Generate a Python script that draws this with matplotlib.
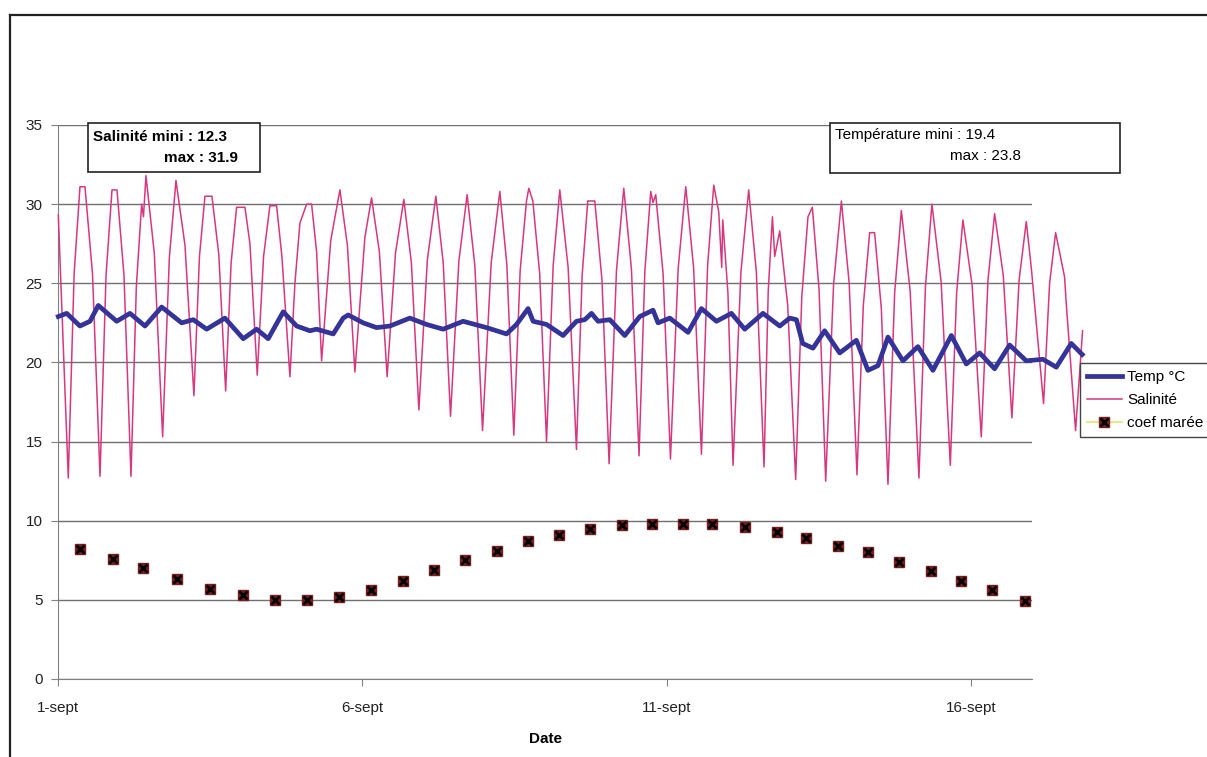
import matplotlib
matplotlib.use("Agg")
import matplotlib.pyplot as plt
from matplotlib.lines import Line2D
from matplotlib.patches import Rectangle
from matplotlib.legend_handler import HandlerTuple

plt.rcParams['font.family'] = ['Liberation Sans', 'DejaVu Sans']

# days since 1-sept (troughs, shoulders, peaks)
sal_days = [0.005, 0.169, 0.265, 0.361, 0.443, 0.567, 0.690, 0.789, 0.887, 0.969, 1.084,
            1.199, 1.287, 1.374, 1.404, 1.445, 1.582, 1.719, 1.829, 1.938, 2.086, 2.233,
            2.324, 2.414, 2.529, 2.642, 2.754, 2.844, 2.934, 3.071, 3.153, 3.273, 3.377,
            3.481, 3.591, 3.678, 3.810, 3.892, 3.974, 4.084, 4.166, 4.248, 4.330, 4.480,
            4.631, 4.754, 4.877, 5.041, 5.151, 5.279, 5.407, 5.544, 5.681, 5.805, 5.928,
            6.068, 6.207, 6.328, 6.448, 6.585, 6.721, 6.848, 6.974, 7.116, 7.258, 7.373,
            7.488, 7.592, 7.696, 7.734, 7.800, 7.913, 8.025, 8.134, 8.243, 8.380, 8.517,
            8.610, 8.703, 8.818, 8.936, 9.053, 9.174, 9.294, 9.420, 9.545, 9.641, 9.737,
            9.775, 9.819, 9.940, 10.061, 10.187, 10.312, 10.441, 10.570, 10.671, 10.772,
            10.854, 10.903, 10.920, 11.005, 11.089, 11.218, 11.346, 11.472, 11.598, 11.667,
            11.736, 11.773, 11.856, 11.987, 12.118, 12.219, 12.320, 12.392, 12.502, 12.611,
            12.740, 12.869, 12.997, 13.125, 13.229, 13.333, 13.415, 13.525, 13.634, 13.744,
            13.854, 13.999, 14.143, 14.250, 14.356, 14.507, 14.658, 14.762, 14.865, 15.016,
            15.167, 15.277, 15.386, 15.528, 15.670, 15.788, 15.906, 15.988, 16.190, 16.289,
            16.388, 16.535, 16.563, 16.716, 16.831]
sal_vals = [29.3, 12.7, 25.6, 31.1, 31.1, 25.6, 12.8, 25.5, 30.9, 30.9, 25.5,
            12.8, 24.8, 30.0, 29.2, 31.8, 26.9, 15.3, 26.6, 31.5, 27.4, 17.9,
            26.7, 30.5, 30.5, 26.8, 18.2, 26.3, 29.8, 29.8, 27.5, 19.2, 26.7,
            29.9, 29.9, 26.7, 19.1, 25.0, 28.8, 30.0, 30.0, 27.0, 20.1, 27.7,
            30.9, 27.4, 19.4, 27.9, 30.4, 27.0, 19.1, 26.9, 30.3, 26.3, 17.0,
            26.5, 30.5, 26.3, 16.6, 26.4, 30.6, 26.1, 15.7, 26.3, 30.8, 26.2,
            15.4, 25.8, 30.2, 31.0, 30.2, 25.6, 15.0, 26.1, 30.9, 26.0, 14.5,
            25.5, 30.2, 30.2, 25.2, 13.6, 25.8, 31.0, 25.9, 14.1, 25.8, 30.8,
            30.1, 30.6, 25.6, 13.9, 25.9, 31.1, 26.0, 14.2, 26.1, 31.2,
            29.5, 26.0, 29.0, 24.4, 13.5, 25.7, 30.9, 25.7, 13.4, 24.5,
            29.2, 26.7, 28.3, 23.6, 12.6, 24.2, 29.2, 29.8, 24.6, 12.5,
            24.9, 30.2, 25.0, 12.9, 23.6, 28.2, 28.2, 23.4, 12.3, 24.4,
            29.6, 24.5, 12.7, 24.8, 30.0, 25.1, 13.5, 24.4, 29.0, 24.9,
            15.3, 25.2, 29.4, 25.5, 16.5, 25.2, 28.9, 26.0, 17.4, 25.0,
            28.2, 25.4, 23.7, 15.7, 22.0]

temp_days = [0.005, 0.143, 0.361, 0.525, 0.662, 0.964, 1.182, 1.429, 1.703, 2.031, 2.222,
             2.442, 2.742, 3.043, 3.263, 3.453, 3.700, 3.920, 4.138, 4.248, 4.521, 4.685,
             4.767, 5.013, 5.233, 5.452, 5.780, 6.054, 6.327, 6.655, 7.039, 7.368, 7.532,
             7.722, 7.805, 8.025, 8.297, 8.517, 8.654, 8.764, 8.872, 9.064, 9.310, 9.557,
             9.775, 9.857, 10.049, 10.350, 10.570, 10.816, 11.062, 11.281, 11.581, 11.856,
             12.020, 12.130, 12.233, 12.402, 12.594, 12.841, 13.115, 13.305, 13.470, 13.634,
             13.880, 14.126, 14.373, 14.675, 14.921, 15.140, 15.386, 15.632, 15.906, 16.179,
             16.399, 16.645, 16.825]
temp_vals = [22.9, 23.1, 22.3, 22.6, 23.6, 22.6, 23.1, 22.3, 23.5, 22.5, 22.7,
             22.1, 22.8, 21.5, 22.1, 21.5, 23.2, 22.3, 22.0, 22.1, 21.8, 22.8,
             23.0, 22.5, 22.2, 22.3, 22.8, 22.4, 22.1, 22.6, 22.2, 21.8, 22.4,
             23.4, 22.6, 22.4, 21.7, 22.6, 22.7, 23.1, 22.6, 22.7, 21.7, 22.9,
             23.3, 22.5, 22.8, 21.9, 23.4, 22.6, 23.1, 22.1, 23.1, 22.3,
             22.8, 22.7, 21.2, 20.9, 22.0, 20.6, 21.4, 19.5, 19.8, 21.6,
             20.1, 21.0, 19.5, 21.7, 19.9, 20.6, 19.6, 21.1, 20.1, 20.2,
             19.7, 21.2, 20.5]

coef_days = [0.36, 0.90, 1.40, 1.95, 2.50, 3.04, 3.56, 4.09, 4.61, 5.14, 5.67, 6.17,
             6.68, 7.21, 7.72, 8.23, 8.74, 9.26, 9.75, 10.26, 10.74, 11.28, 11.81,
             12.28, 12.81, 13.30, 13.81, 14.34, 14.84, 15.35, 15.88]
coef_vals = [8.2, 7.6, 7.0, 6.3, 5.7, 5.3, 5.0, 5.0, 5.2, 5.6, 6.2, 6.9,
             7.5, 8.1, 8.7, 9.1, 9.5, 9.7, 9.8, 9.8, 9.8, 9.6, 9.3,
             8.9, 8.4, 8.0, 7.4, 6.8, 6.2, 5.6, 4.9]

tick_days = [0, 5, 10, 15]
tick_labels = ['1-sept', '6-sept', '11-sept', '16-sept']

W, H = 1207, 757
fig = plt.figure(figsize=(W / 100, H / 100), dpi=100)
ax = fig.add_axes([58 / W, 1 - 679 / H, (1032 - 58) / W, (679 - 125) / H])

blue = '#333399'
pink = '#d6387f'

ax.plot(sal_days, sal_vals, color=pink, lw=1.1, clip_on=False, zorder=3)
ax.plot(temp_days, temp_vals, color=blue, lw=3.4, clip_on=False, zorder=4)
ax.plot(coef_days, coef_vals, ls='none', marker='s', ms=7, mfc='#7a1f1f', mec='#7a1f1f', zorder=5)
ax.plot(coef_days, coef_vals, ls='none', marker='x', ms=6, mew=2, color='black', zorder=6)

ax.set_xlim(0, 16)
ax.set_ylim(0, 35)
ax.set_yticks(range(0, 36, 5))
ax.set_xticks(tick_days)
ax.set_xticklabels(tick_labels)
ax.yaxis.grid(True, color='#707070', lw=1)
ax.set_axisbelow(True)
for s in ['top', 'right']:
    ax.spines[s].set_visible(False)
for s in ['left', 'bottom']:
    ax.spines[s].set_color('#808080')
ax.tick_params(axis='both', colors='#808080', labelcolor='#222222', labelsize=11,
               direction='out', length=5)
ax.tick_params(axis='y', pad=6)
ax.tick_params(axis='x', pad=11)
ax.set_xlabel('Date', fontsize=11, fontweight='bold', labelpad=12)

# outer frame (left and top edges)
fig.add_artist(Line2D([10 / W, 10 / W], [0, 1 - 15 / H], transform=fig.transFigure, color='#222222', lw=1.6))
fig.add_artist(Line2D([10 / W, 1], [1 - 15 / H, 1 - 15 / H], transform=fig.transFigure, color='#222222', lw=1.6))

# min / max boxes
fig.add_artist(Rectangle((88 / W, 1 - 172 / H), (260 - 88) / W, (172 - 123) / H,
                         transform=fig.transFigure, fill=True, fc='white', ec='#222222', lw=1.2, zorder=10))
fig.text(93 / W, 1 - 137 / H, 'Salinité mini : 12.3', fontsize=11, fontweight='bold', va='center', zorder=11)
fig.text(238 / W, 1 - 158 / H, 'max : 31.9', fontsize=11, fontweight='bold', va='center', ha='right', zorder=11)

fig.add_artist(Rectangle((830 / W, 1 - 173 / H), (1120 - 830) / W, (173 - 123) / H,
                         transform=fig.transFigure, fill=True, fc='white', ec='#222222', lw=1.2, zorder=10))
fig.text(835 / W, 1 - 135 / H, 'Température mini : 19.4', fontsize=11, va='center', zorder=11)
fig.text(1021 / W, 1 - 156 / H, 'max : 23.8', fontsize=11, va='center', ha='right', zorder=11)

# legend
h_temp = Line2D([], [], color=blue, lw=3.4)
h_sal = Line2D([], [], color=pink, lw=1.1)
h_cl = Line2D([], [], color='#eee48a', lw=1.5, marker='s', ms=7, mfc='#7a1f1f', mec='#7a1f1f')
h_cx = Line2D([], [], ls='none', marker='x', ms=6, mew=2, color='black')
leg = fig.legend([h_temp, h_sal, (h_cl, h_cx)], ['Temp °C', 'Salinité', 'coef marée'],
                 handler_map={tuple: HandlerTuple(ndivide=1)},
                 loc='upper left', bbox_to_anchor=(1080 / W, 1 - 363 / H),
                 fontsize=11, frameon=True, fancybox=False, framealpha=1,
                 edgecolor='#444444', handlelength=2.3, handletextpad=0.35,
                 labelspacing=0.6, borderpad=0.45, borderaxespad=0)
leg.get_frame().set_linewidth(1.0)

fig.savefig('out.png', dpi=100)
